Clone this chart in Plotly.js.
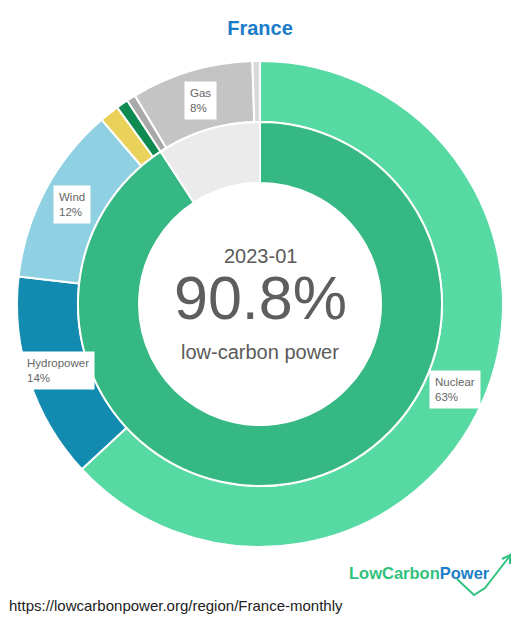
<!DOCTYPE html>
<html>
<head>
<meta charset="utf-8">
<script src="https://cdn.plot.ly/plotly-3.0.1.min.js"></script>
<style>html,body{margin:0;padding:0;background:#fff;}#chart{width:520px;height:620px;}</style>
</head>
<body>
<div id="chart"></div>
<script>
// ---- data ----
const categories = ['Nuclear', 'Hydropower', 'Wind', 'Solar', 'Biomass', 'Coal', 'Gas', 'Oil'];
const shares = [63.1, 13.7, 11.9, 1.3, 0.8, 0.6, 8.1, 0.5];
const colors = ['#56d9a3', '#138bb0', '#8fd0e2', '#e9d15a', '#0f8a50', '#a9a9a9', '#c4c4c4', '#d9d9d9'];
const innerCategories = ['Low-carbon', 'Fossil'];
const innerShares = [90.8, 9.2];
const innerColors = ['#35b883', '#ebebeb'];
const period = '2023-01';
const country = 'France';
const sourceUrl = 'https://lowcarbonpower.org/region/France-monthly';

// ---- geometry (pixels) ----
const W = 520, H = 620;
const cx = 260, cy = 304;          // centre, from top
const rOuter = 243, rMid = 182, rInner = 121;
function dom(r) {
  return {
    x: [(cx - r) / W, (cx + r) / W],
    y: [(H - cy - r) / H, (H - cy + r) / H]
  };
}

const outer = {
  type: 'pie', values: shares, labels: categories,
  marker: {colors: colors, line: {color: '#ffffff', width: 2}},
  sort: false, direction: 'clockwise', rotation: 0,
  hole: rMid / rOuter, textinfo: 'none', hoverinfo: 'label+percent',
  domain: dom(rOuter)
};
const inner = {
  type: 'pie', values: innerShares, labels: innerCategories,
  marker: {colors: innerColors, line: {color: '#ffffff', width: 2}},
  sort: false, direction: 'clockwise', rotation: 0,
  hole: rInner / rMid, textinfo: 'none', hoverinfo: 'label+percent',
  domain: dom(rMid)
};

// labels at slice centroids (computed from the data)
const total = shares.reduce((a, b) => a + b, 0);
const annotations = [];
let cum = 0;
const rLab = (rMid + rOuter) / 2;
shares.forEach((v, i) => {
  const mid = (cum + v / 2) / total * 2 * Math.PI;
  cum += v;
  if (v / total * 100 < 5) return;
  const px = cx + rLab * Math.sin(mid);
  const py = cy - rLab * Math.cos(mid);
  annotations.push({
    x: px / W, y: (H - py) / H, xref: 'paper', yref: 'paper',
    text: categories[i] + '<br>' + Math.round(v / total * 100) + '%',
    showarrow: false, align: 'left', xanchor: 'center', yanchor: 'middle',
    bgcolor: '#ffffff', borderpad: 5,
    font: {family: 'Arial, Liberation Sans, sans-serif', size: 11.5, color: '#666666'}
  });
});

const lowCarbon = innerShares[0];
const centerFont = 'Arial, Liberation Sans, sans-serif';
annotations.push(
  {x: 0.5, y: (H - 256) / H, xref: 'paper', yref: 'paper', showarrow: false,
   text: period, font: {family: centerFont, size: 20, color: '#5a5a5a'}, yanchor: 'middle'},
  {x: 0.5, y: (H - 298) / H, xref: 'paper', yref: 'paper', showarrow: false,
   text: lowCarbon.toFixed(1) + '%', font: {family: centerFont, size: 61, color: '#5e5e5e'}, yanchor: 'middle'},
  {x: 0.5, y: (H - 352) / H, xref: 'paper', yref: 'paper', showarrow: false,
   text: 'low-carbon power', font: {family: centerFont, size: 20, color: '#5a5a5a'}, yanchor: 'middle'},
  {x: 7 / W, y: (H - 605) / H, xref: 'paper', yref: 'paper', showarrow: false,
   text: sourceUrl, xanchor: 'left', yanchor: 'middle',
   font: {family: centerFont, size: 15, color: '#222222'}},
  {x: 347 / W, y: (H - 573) / H, xref: 'paper', yref: 'paper', showarrow: false,
   xanchor: 'left', yanchor: 'middle',
   text: '<b><span style="color:#2fc27d">LowCarbon</span><span style="color:#1b7ec8">Power</span></b>',
   font: {family: centerFont, size: 16.5, color: '#2fc27d'}}
);

const layout = {
  width: W, height: H,
  margin: {l: 0, r: 0, t: 0, b: 0},
  paper_bgcolor: '#ffffff',
  showlegend: false,
  title: {text: '<b>' + country + '</b>', x: 0.5, xanchor: 'center', y: 1 - 28 / H, yanchor: 'middle',
          font: {family: 'Arial, Liberation Sans, sans-serif', size: 20, color: '#1a7cc9'}},
  annotations: annotations,
  shapes: [
    {type: 'path', xref: 'paper', yref: 'paper',
     path: 'M ' + (457 / W) + ' ' + ((H - 579) / H) + ' L ' + (474 / W) + ' ' + ((H - 595) / H) +
           ' L ' + (485 / W) + ' ' + ((H - 588) / H) + ' L ' + (509 / W) + ' ' + ((H - 557) / H),
     line: {color: '#2fc27d', width: 2}},
    {type: 'path', xref: 'paper', yref: 'paper',
     path: 'M ' + (502 / W) + ' ' + ((H - 559) / H) + ' L ' + (510 / W) + ' ' + ((H - 555) / H) +
           ' L ' + (510 / W) + ' ' + ((H - 564) / H),
     line: {color: '#2fc27d', width: 2}}
  ]
};

Plotly.newPlot('chart', [outer, inner], layout, {displayModeBar: false, staticPlot: true});
</script>
</body>
</html>
